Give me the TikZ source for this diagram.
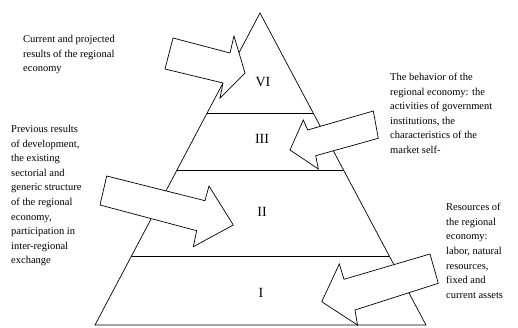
\documentclass[tikz,border=0pt]{standalone}
\usepackage{fontspec}
\setmainfont{Liberation Serif}
\begin{document}
\begin{tikzpicture}[x=1pt,y=-1pt,
  edge/.style={line width=0.7pt,black},
  blockarrow/.style={line width=0.7pt,draw=black,fill=white,line join=miter},
  txt/.style={anchor=north west,inner sep=0pt,align=left,font=\fontsize{10.5}{14.6}\selectfont},
  lvl/.style={inner sep=0pt,font=\fontsize{14}{16}\selectfont}]
\useasboundingbox (0,0) rectangle (518,327);
% triangle
\coordinate (apex) at (260,13);
\coordinate (bl) at (95,325);
\coordinate (br) at (426,325);
\draw[edge] (bl) -- (apex) -- (br) -- cycle;
\draw[edge] (207.1,113) -- (313.2,113);
\draw[edge] (177,170) -- (343.5,170);
\draw[edge] (131.5,256) -- (389.3,256);
% level labels
\node[lvl] (l6) at (263,82) {VI};
\node[lvl] (l3) at (262,139) {III};
\node[lvl] (l2) at (262,212) {II};
\node[lvl] (l1) at (261,293) {I};
% block arrows
\draw[blockarrow] (173,38) -- (230,53) -- (234,36) -- (245,73) -- (220,98) -- (223,83) -- (165,69) -- cycle;
\draw[blockarrow] (106.7,176) -- (205,200.7) -- (209,186) -- (233.3,225) -- (193.3,246.7) -- (196.7,230.7) -- (100,205) -- cycle;
\draw[blockarrow] (373.3,111) -- (378.3,138.3) -- (315.7,155.7) -- (318.3,169) -- (290,150) -- (303.3,120) -- (307.7,130) -- cycle;
\draw[blockarrow] (430,254) -- (438.3,283.3) -- (355,310) -- (357.5,325) -- (321.7,301.7) -- (339.3,264) -- (344,279.3) -- cycle;
% texts
\node[txt] (t1) at (23,35) {Current and projected\\results of the regional\\economy};
\node[txt] (t2) at (390,73) {The behavior of the\\regional economy: the\\activities of government\\institutions, the\\characteristics of the\\market self-};
\node[txt] (t3) at (11,125) {Previous results\\of development,\\the existing\\sectorial and\\generic structure\\of the regional\\economy,\\participation in\\inter-regional\\exchange};
\node[txt] (t4) at (446,203) {Resources of\\the regional\\economy:\\labor, natural\\resources,\\fixed and\\current assets};
\end{tikzpicture}
\end{document}
